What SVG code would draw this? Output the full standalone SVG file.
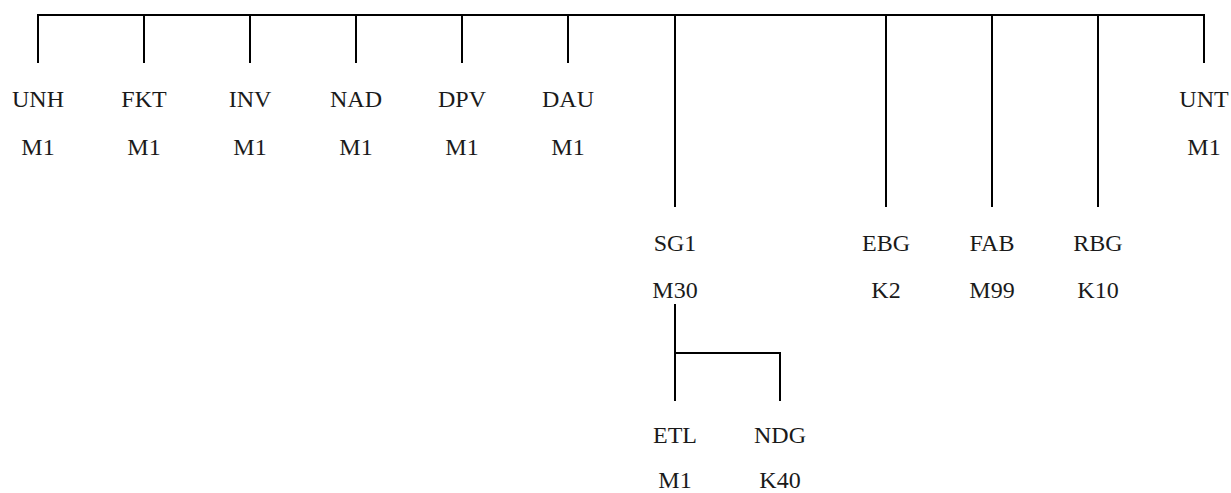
<svg xmlns="http://www.w3.org/2000/svg" width="1231" height="493" viewBox="0 0 1231 493">
<style>
  .ln { stroke: #000; stroke-width: 2; fill: none; }
  text { font-family: "Liberation Serif", "Times New Roman", serif; font-size: 24px; fill: #1a1a1a; text-anchor: middle; }
</style>
<rect width="1231" height="493" fill="#fff"/>
<g id="connectors">
  <path class="ln" d="M38,63 V15 H1204 V63"/>
  <path class="ln" d="M144,15 V63 M250,15 V63 M356,15 V63 M462,15 V63 M568,15 V63"/>
  <path class="ln" d="M675,15 V207 M886,15 V207 M992,15 V207 M1098,15 V207"/>
  <path class="ln" d="M675,304 V401 M675,353 H780 V401"/>
</g>
<g id="UNH"><text x="38" y="107">UNH</text><text x="38" y="155">M1</text></g>
<g id="FKT"><text x="144" y="107">FKT</text><text x="144" y="155">M1</text></g>
<g id="INV"><text x="250" y="107">INV</text><text x="250" y="155">M1</text></g>
<g id="NAD"><text x="356" y="107">NAD</text><text x="356" y="155">M1</text></g>
<g id="DPV"><text x="462" y="107">DPV</text><text x="462" y="155">M1</text></g>
<g id="DAU"><text x="568" y="107">DAU</text><text x="568" y="155">M1</text></g>
<g id="UNT"><text x="1204" y="107">UNT</text><text x="1204" y="155">M1</text></g>
<g id="SG1"><text x="675" y="251">SG1</text><text x="675" y="298">M30</text></g>
<g id="EBG"><text x="886" y="251">EBG</text><text x="886" y="298">K2</text></g>
<g id="FAB"><text x="992" y="251">FAB</text><text x="992" y="298">M99</text></g>
<g id="RBG"><text x="1098" y="251">RBG</text><text x="1098" y="298">K10</text></g>
<g id="ETL"><text x="675" y="443">ETL</text><text x="675" y="488">M1</text></g>
<g id="NDG"><text x="780" y="443">NDG</text><text x="780" y="488">K40</text></g>
</svg>
